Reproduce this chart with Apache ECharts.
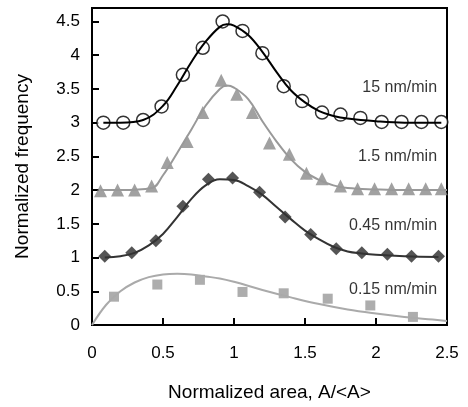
<!DOCTYPE html>
<html>
<head>
<meta charset="utf-8">
<script src="https://cdn.jsdelivr.net/npm/echarts@6/dist/echarts.min.js"></script>
<style>
  html, body { margin: 0; padding: 0; background: #fff; }
  #chart { width: 468px; height: 407px; }
</style>
</head>
<body>
<div id="chart"></div>
<script>
// measured points, 15 nm/min (open circles)
var circX = [0.08, 0.22, 0.36, 0.49, 0.64, 0.78, 0.92, 1.06, 1.20, 1.35, 1.48, 1.62, 1.75, 1.89, 2.04, 2.18, 2.32, 2.46];
var circY = [3.00, 3.00, 3.04, 3.24, 3.71, 4.11, 4.50, 4.36, 4.03, 3.54, 3.32, 3.15, 3.12, 3.07, 3.01, 3.01, 3.01, 3.01];
// 1.5 nm/min (triangles)
var triX = [0.06, 0.18, 0.30, 0.42, 0.53, 0.67, 0.78, 0.91, 1.02, 1.13, 1.25, 1.39, 1.51, 1.62, 1.75, 1.87, 1.99, 2.11, 2.23, 2.35, 2.46];
var triY = [1.99, 2.00, 2.00, 2.06, 2.41, 2.72, 3.15, 3.63, 3.42, 3.15, 2.70, 2.53, 2.25, 2.17, 2.06, 2.02, 2.02, 2.02, 2.02, 2.02, 2.02];
// 0.45 nm/min (diamonds)
var diaX = [0.09, 0.28, 0.45, 0.64, 0.82, 0.99, 1.18, 1.36, 1.54, 1.72, 1.90, 2.08, 2.25, 2.44];
var diaY = [1.02, 1.07, 1.25, 1.76, 2.16, 2.18, 1.97, 1.60, 1.34, 1.13, 1.07, 1.05, 1.02, 1.02];
// 0.15 nm/min (squares)
var sqX = [0.155, 0.46, 0.76, 1.06, 1.35, 1.66, 1.96, 2.26];
var sqY = [0.42, 0.60, 0.67, 0.49, 0.47, 0.39, 0.29, 0.12];

// fitted curves
var fitCircX = [0.08, 0.2, 0.36, 0.5, 0.6, 0.7, 0.8, 0.9, 0.95, 1.0, 1.1, 1.2, 1.3, 1.4, 1.5, 1.6, 1.7, 1.8, 2.0, 2.2, 2.46];
var fitCircY = [3.00, 3.00, 3.04, 3.25, 3.55, 3.90, 4.20, 4.42, 4.46, 4.44, 4.30, 4.05, 3.75, 3.48, 3.30, 3.17, 3.10, 3.06, 3.02, 3.00, 3.00];
var fitTriX = [0.06, 0.2, 0.42, 0.5, 0.6, 0.7, 0.8, 0.9, 0.95, 1.0, 1.1, 1.2, 1.3, 1.4, 1.5, 1.6, 1.7, 1.8, 2.0, 2.2, 2.5];
var fitTriY = [2.00, 2.00, 2.03, 2.22, 2.55, 2.90, 3.25, 3.50, 3.55, 3.52, 3.35, 3.02, 2.72, 2.46, 2.27, 2.15, 2.07, 2.03, 2.01, 2.00, 2.00];
var fitDiaX = [0.09, 0.2, 0.3, 0.4, 0.5, 0.6, 0.7, 0.8, 0.9, 1.0, 1.1, 1.2, 1.3, 1.4, 1.5, 1.6, 1.7, 1.8, 1.9, 2.0, 2.2, 2.44];
var fitDiaY = [1.00, 1.02, 1.07, 1.18, 1.35, 1.60, 1.87, 2.07, 2.16, 2.15, 2.06, 1.93, 1.75, 1.57, 1.40, 1.27, 1.16, 1.09, 1.06, 1.04, 1.02, 1.01];
var fitSqX = [0, 0.1, 0.2, 0.3, 0.4, 0.5, 0.6, 0.7, 0.8, 0.9, 1.0, 1.2, 1.4, 1.6, 1.8, 2.0, 2.2, 2.4, 2.5];
var fitSqY = [0, 0.30, 0.50, 0.63, 0.71, 0.75, 0.76, 0.75, 0.72, 0.69, 0.64, 0.52, 0.41, 0.31, 0.23, 0.17, 0.12, 0.08, 0.06];

var seriesNames = ['15 nm/min', '1.5 nm/min', '0.45 nm/min', '0.15 nm/min'];
var labelX = [2.43, 2.43, 2.43, 2.43];
var labelY = [3.52, 2.49, 1.48, 0.52];

var xTicks = [0, 0.5, 1, 1.5, 2, 2.5];
var yTicks = [0, 0.5, 1, 1.5, 2, 2.5, 3, 3.5, 4, 4.5];

function zip(a, b) {
  var out = [];
  for (var i = 0; i < a.length; i++) out.push([a[i], b[i]]);
  return out;
}

var chart = echarts.init(document.getElementById('chart'));
var fontFam = 'Liberation Sans, Arial, sans-serif';

chart.setOption({
  animation: false,
  grid: {
    left: 92, right: 21, top: 8, bottom: 75,
    show: true, borderColor: '#000', borderWidth: 2
  },
  xAxis: {
    type: 'value', min: 0, max: 2.5,
    name: 'Normalized area, A/<A>',
    nameLocation: 'middle', nameGap: 58,
    nameTextStyle: { color: '#000', fontSize: 19, fontFamily: fontFam },
    axisLine: { lineStyle: { color: '#000', width: 2 } },
    axisTick: { inside: true, length: 7, customValues: xTicks, lineStyle: { color: '#000', width: 2 } },
    axisLabel: { customValues: xTicks, margin: 20, color: '#000', fontSize: 17, fontFamily: fontFam },
    splitLine: { show: false }
  },
  yAxis: {
    type: 'value', min: 0, max: 4.7,
    name: 'Normalized frequency',
    nameLocation: 'middle', nameGap: 60,
    nameTextStyle: { color: '#000', fontSize: 19, fontFamily: fontFam },
    axisLine: { lineStyle: { color: '#000', width: 2 } },
    axisTick: { inside: true, length: 7, customValues: yTicks, lineStyle: { color: '#000', width: 2 } },
    axisLabel: { customValues: yTicks, margin: 12, color: '#000', fontSize: 17, fontFamily: fontFam },
    splitLine: { show: false }
  },
  series: [
    // fits
    { type: 'line', smooth: 0.4, symbol: 'none', data: zip(fitSqX, fitSqY), lineStyle: { color: '#aaa', width: 2 } },
    { type: 'line', smooth: 0.4, symbol: 'none', data: zip(fitDiaX, fitDiaY), lineStyle: { color: '#333', width: 2 } },
    { type: 'line', smooth: 0.4, symbol: 'none', data: zip(fitTriX, fitTriY), lineStyle: { color: '#999', width: 2 } },
    { type: 'line', smooth: 0.4, symbol: 'none', data: zip(fitCircX, fitCircY), lineStyle: { color: '#000', width: 2 } },
    // points
    { type: 'scatter', symbol: 'rect', symbolSize: 10, data: zip(sqX, sqY), itemStyle: { color: '#999' } },
    { type: 'scatter', symbol: 'diamond', symbolSize: 13, data: zip(diaX, diaY), itemStyle: { color: '#2b2b2b' } },
    { type: 'scatter', symbol: 'triangle', symbolSize: 13, data: zip(triX, triY), itemStyle: { color: '#8a8a8a' } },
    { type: 'scatter', symbol: 'circle', symbolSize: 13, data: zip(circX, circY),
      itemStyle: { color: '#fff', borderColor: '#000', borderWidth: 1.5 } },
    // rate labels
    { type: 'scatter', symbolSize: 0, silent: true,
      data: seriesNames.map(function (n, i) { return { value: [labelX[i], labelY[i]], name: n }; }),
      label: {
        show: true, position: 'inside', align: 'right', verticalAlign: 'middle',
        formatter: '{b}', color: '#000', fontSize: 16, fontFamily: fontFam
      }
    }
  ]
});
</script>
</body>
</html>
